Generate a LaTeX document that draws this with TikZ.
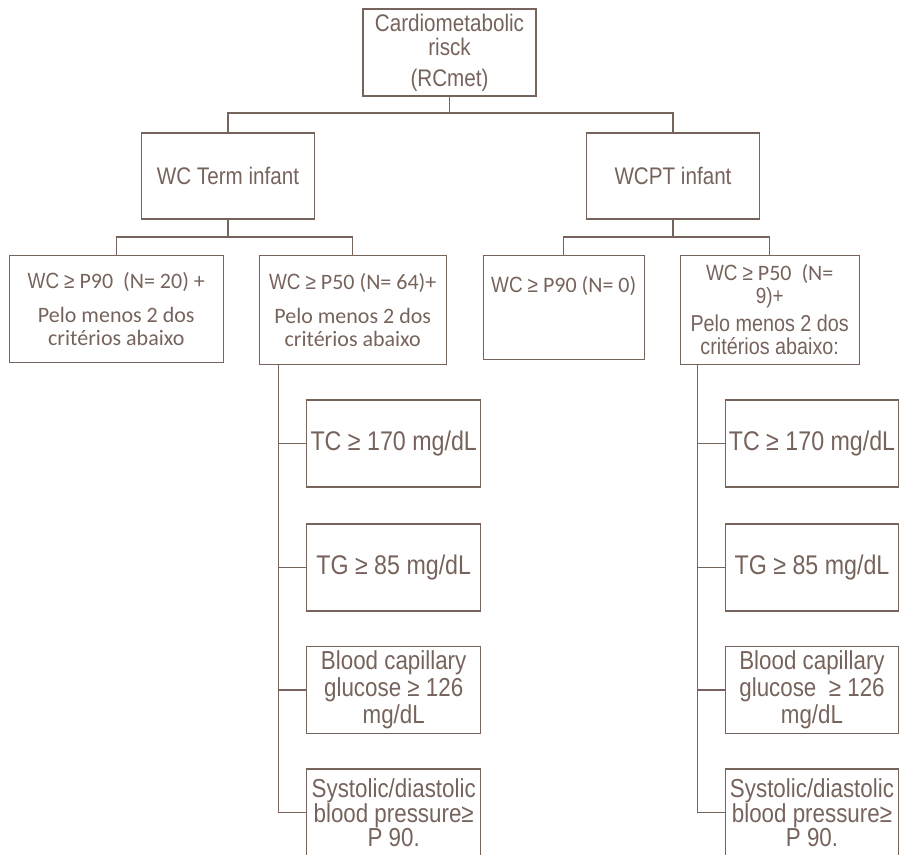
\documentclass[tikz,border=0pt]{standalone}
\usepackage{fontspec}
\setmainfont{Liberation Sans}[FakeStretch=0.86]
\newfontfamily\arn{Liberation Sans}[FakeStretch=0.86]
\newfontfamily\calfont{Carlito}
\definecolor{ink}{RGB}{118,100,92}
\newcommand\wcx{{\arn WC}}
\newcommand\gex{{\arn ≥}}
\begin{document}
\begin{tikzpicture}[x=1pt,y=-1pt,
  box/.style={draw=ink,line width=1.1pt,inner sep=0pt,align=center,text=ink},
  wire/.style={draw=ink,line width=1.1pt},
  headf/.style={font=\fontsize{24}{24}\selectfont},
  calf/.style={font=\calfont\fontsize{22}{23}\selectfont},
  crit/.style={box,minimum width=174pt,minimum height=87pt}]
\useasboundingbox (0,0) rectangle (899,854);

% level 1
\node[box,headf,minimum width=173pt,minimum height=87pt] (top) at (449.5,52.5)
  {Cardiometabolic\\ risck\\[7pt] (RCmet)};

% level 2
\node[box,headf,minimum width=173pt,minimum height=86pt] (term) at (228,176) {WC Term infant};
\node[box,headf,minimum width=173pt,minimum height=86pt] (pt) at (673,176) {WCPT infant};

% level 3
\node[box,calf,minimum width=214pt,minimum height=107.5pt] (a1) at (116.3,309)
  {\wcx{} \gex{} P90\ \ (N= 20) +\\[11pt] Pelo menos 2 dos\\ critérios abaixo};
\node[box,calf,minimum width=187pt,minimum height=108.7pt] (a2) at (352.7,309.7)
  {\wcx{} \gex{} P50 (N= 64)+\\[11pt] Pelo menos 2 dos\\ critérios abaixo};
\node[box,calf,minimum width=161pt,minimum height=104pt] (b1) at (563.7,307.2)
  {\wcx{} \gex{} P90 (N= 0)\\[22pt] \mbox{}};
\node[box,calf,minimum width=179pt,minimum height=108.7pt] (b2) at (769.7,309.7)
  {\wcx{} \gex{} P50\ \ (N=\\ \arn 9)+\\[5pt] \arn\fontsize{23}{25}\selectfont Pelo menos 2 dos\\ \arn\fontsize{23}{25}\selectfont critérios abaixo:};

% criteria, left
\node[crit,font=\fontsize{27}{27}\selectfont] (ltc) at (393.7,443.5) {TC ≥ 170 mg/dL};
\node[crit,font=\fontsize{27}{27}\selectfont] (ltg) at (393.7,567.5) {TG ≥ 85 mg/dL};
\node[crit,font=\fontsize{26}{27}\selectfont] (lbl) at (393.7,690) {Blood capillary\\ glucose ≥ 126\\ mg/dL};
\node[crit,font=\fontsize{26}{24}\selectfont] (lsy) at (393.7,812.5) {Systolic/diastolic\\ blood pressure≥\\ P 90.};

% criteria, right
\node[crit,minimum width=172.6pt,font=\fontsize{27}{27}\selectfont] (rtc) at (812,443.5) {TC ≥ 170 mg/dL};
\node[crit,minimum width=172.6pt,font=\fontsize{27}{27}\selectfont] (rtg) at (812,567.5) {TG ≥ 85 mg/dL};
\node[crit,minimum width=172.6pt,font=\fontsize{26}{27}\selectfont] (rbl) at (812,690) {Blood capillary\\ glucose\ \ ≥ 126\\ mg/dL};
\node[crit,minimum width=172.6pt,font=\fontsize{26}{24}\selectfont] (rsy) at (812,812.5) {Systolic/diastolic\\ blood pressure≥\\ P 90.};

% connectors
\coordinate (h0) at (0,113);
\coordinate (h1) at (0,237);
\draw[wire] (top.south) -- (top.south |- h0);
\draw[wire] (term.north) -- (term.north |- h0) -- (pt.north |- h0) -- (pt.north);
\draw[wire] (term.south) -- (term.south |- h1);
\draw[wire] (a1.north) -- (a1.north |- h1) -- (a2.north |- h1) -- (a2.north);
\draw[wire] (pt.south) -- (pt.south |- h1);
\draw[wire] (b1.north) -- (b1.north |- h1) -- (b2.north |- h1) -- (b2.north);

\coordinate (tl) at (278.3,0);
\draw[wire] (a2.south -| tl) -- (tl |- lsy.west) -- (lsy.west);
\foreach \n in {ltc,ltg,lbl} \draw[wire] (tl |- \n.west) -- (\n.west);

\coordinate (tr) at (697.7,0);
\draw[wire] (b2.south -| tr) -- (tr |- rsy.west) -- (rsy.west);
\foreach \n in {rtc,rtg,rbl} \draw[wire] (tr |- \n.west) -- (\n.west);
\end{tikzpicture}
\end{document}
